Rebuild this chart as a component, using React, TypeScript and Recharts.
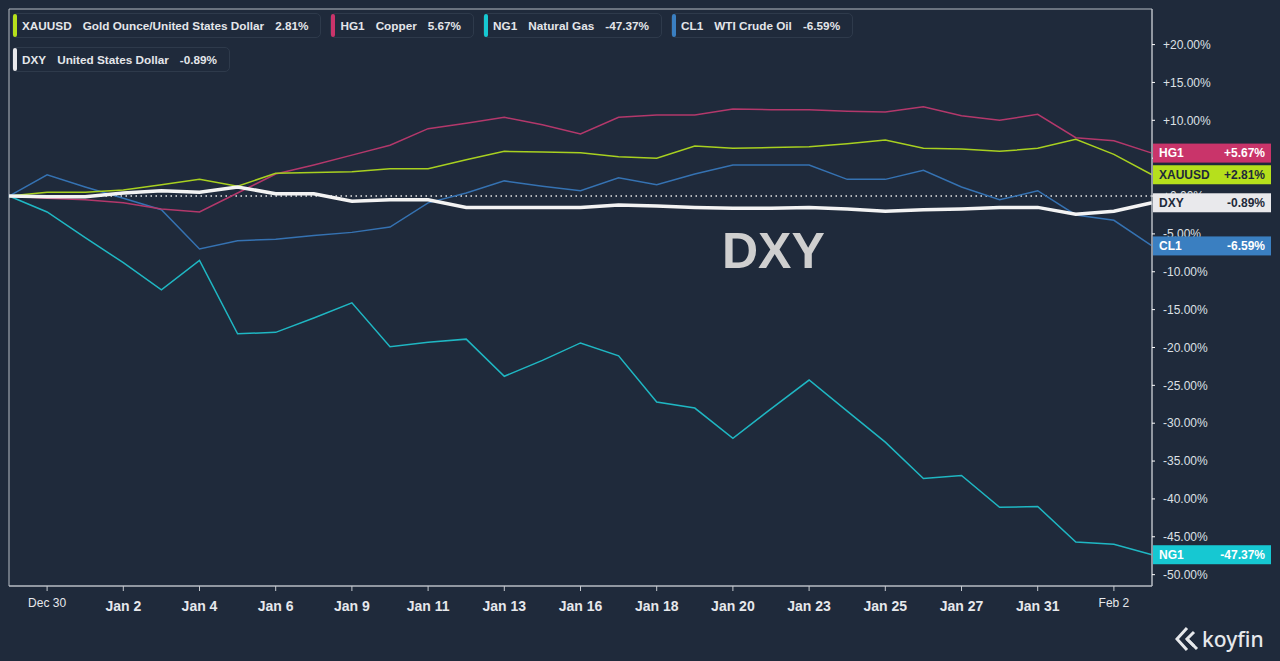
import React from 'react';
import { LineChart, Line, XAxis, YAxis, ReferenceLine, ReferenceArea, LabelList } from 'recharts';

const dates = [
  'Dec 29', 'Dec 30', 'Jan 1', 'Jan 2', 'Jan 3', 'Jan 4', 'Jan 5', 'Jan 6', 'Jan 8', 'Jan 9',
  'Jan 10', 'Jan 11', 'Jan 12', 'Jan 13', 'Jan 15', 'Jan 16', 'Jan 17', 'Jan 18', 'Jan 19', 'Jan 20',
  'Jan 22', 'Jan 23', 'Jan 24', 'Jan 25', 'Jan 26', 'Jan 27', 'Jan 30', 'Jan 31', 'Feb 1', 'Feb 2', 'Feb 3',
];

const xauusd = [0, 0.5, 0.5, 0.8, 1.5, 2.2, 1.3, 3.0, 3.1, 3.2, 3.6, 3.6, 4.8, 5.9, 5.8, 5.7, 5.2, 5.0, 6.6, 6.3, 6.4, 6.5, 6.9, 7.4, 6.3, 6.2, 5.9, 6.3, 7.5, 5.5, 2.81];
const hg1 = [0, -0.3, -0.5, -0.9, -1.7, -2.1, 0.4, 2.9, 4.1, 5.4, 6.7, 8.9, 9.6, 10.4, 9.4, 8.2, 10.4, 10.7, 10.7, 11.5, 11.4, 11.4, 11.2, 11.1, 11.8, 10.6, 10.0, 10.8, 7.7, 7.3, 5.67];
const ng1 = [0, -2.1, -5.5, -8.8, -12.4, -8.5, -18.2, -18.0, -16.1, -14.1, -19.9, -19.3, -18.9, -23.8, -21.7, -19.4, -21.1, -27.2, -28.0, -32.0, -28.1, -24.3, -28.4, -32.5, -37.3, -36.9, -41.1, -41.0, -45.7, -46.0, -47.37];
const cl1 = [0, 2.8, 1.2, -0.3, -1.8, -7.0, -5.9, -5.7, -5.2, -4.8, -4.1, -0.9, 0.4, 2.0, 1.3, 0.7, 2.4, 1.5, 2.9, 4.1, 4.1, 4.1, 2.2, 2.2, 3.4, 1.2, -0.5, 0.7, -2.5, -3.2, -6.59];
const dxy = [0, -0.1, -0.1, 0.4, 0.7, 0.5, 1.2, 0.3, 0.3, -0.7, -0.5, -0.5, -1.5, -1.5, -1.5, -1.5, -1.2, -1.3, -1.5, -1.6, -1.6, -1.5, -1.7, -2.0, -1.8, -1.7, -1.5, -1.5, -2.4, -2.0, -0.89];

const xTicks = [1, 3, 5, 7, 9, 11, 13, 15, 17, 19, 21, 23, 25, 27, 29];
const smallTicks = ['Dec 30', 'Feb 2'];
const yTicks = [-50, -45, -40, -35, -30, -25, -20, -15, -10, -5, 0, 5, 10, 15, 20];

const series = [
  { key: 'XAUUSD', name: 'Gold Ounce/United States Dollar', values: xauusd, color: '#a8d020', box: '#b6e01c', text: '#1e2a3a', width: 1.5 },
  { key: 'HG1', name: 'Copper', values: hg1, color: '#b3386b', box: '#c9346a', text: '#ffffff', width: 1.5 },
  { key: 'NG1', name: 'Natural Gas', values: ng1, color: '#1fb7c3', box: '#16c8d2', text: '#ffffff', width: 1.5 },
  { key: 'CL1', name: 'WTI Crude Oil', values: cl1, color: '#3572b2', box: '#3a7fc1', text: '#ffffff', width: 1.5 },
  { key: 'DXY', name: 'United States Dollar', values: dxy, color: '#f3f3f3', box: '#e9e9ec', text: '#1e2a3a', width: 3.5 },
];

// white DXY line sits on top
const drawOrder = ['CL1', 'NG1', 'HG1', 'XAUUSD', 'DXY'];

const data = dates.map((d, i) => {
  const row: any = { i, date: d };
  series.forEach((s) => { row[s.key] = s.values[i]; });
  return row;
});

const BG = '#1f2a3b';
const BORDER = '#b7bcc4';
const FONT = '"Liberation Sans", Arial, sans-serif';

const pct = (v: number, plus: boolean) => `${plus && v >= 0 ? '+' : ''}${v.toFixed(2)}%`;

const XTick = (props: any) => {
  const { x, y, payload } = props;
  const label = dates[payload.value];
  const small = smallTicks.includes(label);
  return (
    <text x={x} y={small ? y + 14 : y + 18} textAnchor="middle" fill="#e6e8ec" fontFamily={FONT}
      fontSize={small ? 12 : 14} fontWeight={small ? 400 : 700}>
      {label}
    </text>
  );
};

const endLabel = (s: any) => (props: any) => {
  const { x, y, index } = props;
  if (index !== dates.length - 1) return null;
  return (
    <g>
      <rect x={x + 1} y={y - 9.5} width={118} height={19} fill={s.box} />
      <text x={x + 7} y={y} dy="0.36em" fill={s.text} fontFamily={FONT} fontSize={12} fontWeight={700}>{s.key}</text>
      <text x={x + 113} y={y} dy="0.36em" textAnchor="end" fill={s.text} fontFamily={FONT} fontSize={12} fontWeight={700}>
        {pct(s.values[s.values.length - 1], true)}
      </text>
    </g>
  );
};

const LegendPill = ({ s }: { s: any }) => (
  <div style={{ display: 'flex', alignItems: 'center', height: 23, border: '1px solid #2e3a4b', borderRadius: 5, paddingRight: 12 }}>
    <div style={{ width: 4, height: 23, borderRadius: 2, background: s.box, marginRight: 5 }} />
    <span style={{ marginRight: 11 }}>{s.key}</span>
    <span style={{ marginRight: 11 }}>{s.name}</span>
    <span>{pct(s.values[s.values.length - 1], false)}</span>
  </div>
);

export default function App() {
  return (
    <div style={{ position: 'absolute', left: 0, top: 0, width: 1280, height: 661, background: BG, overflow: 'hidden' }}>
      <LineChart width={1280} height={661} data={data} margin={{ top: 9, right: 0, left: 9, bottom: 45 }}>
        <ReferenceArea x1={0} x2={30} y1={-51.5} y2={24.7} fill="none" stroke={BORDER} strokeWidth={1} ifOverflow="visible" />
        <XAxis type="number" dataKey="i" domain={[0, 30]} ticks={xTicks} interval={0} height={30}
          axisLine={{ stroke: BORDER }} tickLine={{ stroke: '#c5c9cf' }} tickSize={5} tick={<XTick />} />
        <YAxis orientation="right" width={128} domain={[-51.5, 24.7]} ticks={yTicks} interval={0} allowDataOverflow
          axisLine={{ stroke: BORDER }} tickLine={{ stroke: '#ffffff' }} tickSize={3} tickMargin={8}
          tick={{ fill: '#dde0e5', fontSize: 12, fontFamily: FONT }} tickFormatter={(v: number) => pct(v, true)} />
        <ReferenceLine y={0} stroke="#e6e6e6" strokeWidth={1.5} strokeDasharray="1.5 3.5" />
        {drawOrder.map((k) => {
          const s = series.find((q) => q.key === k)!;
          return (
            <Line key={k} type="linear" dataKey={k} stroke={s.color} strokeWidth={s.width} dot={false}
              activeDot={false} isAnimationActive={false}>
              <LabelList dataKey={k} content={endLabel(s)} />
            </Line>
          );
        })}
      </LineChart>

      <div style={{ position: 'absolute', left: 12, top: 13, width: 900, display: 'flex', flexWrap: 'wrap', gap: '9px 9px',
        color: '#e4e6ea', fontFamily: FONT, fontSize: 11.75, fontWeight: 700 }}>
        {series.map((s) => <LegendPill key={s.key} s={s} />)}
      </div>

      <div style={{ position: 'absolute', left: 722, top: 226, fontFamily: FONT, fontSize: 50, fontWeight: 700, lineHeight: 1, color: '#cfcfcf' }}>
        DXY
      </div>

      <div style={{ position: 'absolute', left: 1175, top: 626, display: 'flex', alignItems: 'center', color: '#e6e8eb' }}>
        <svg width={24} height={26} viewBox="0 0 24 26">
          <polyline points="12,2 2,13 12,24" fill="none" stroke="#e6e8eb" strokeWidth={3} strokeLinejoin="miter" />
          <polyline points="19,6 12,13 19,20" fill="none" stroke="#e6e8eb" strokeWidth={3} strokeLinejoin="miter" />
          <line x1={12} y1={13} x2={22} y2={23} stroke="#e6e8eb" strokeWidth={3} />
        </svg>
        <span style={{ fontFamily: '"Noto Sans", sans-serif', fontSize: 21, fontWeight: 500, marginLeft: 3, lineHeight: 1 }}>koyfin</span>
      </div>
    </div>
  );
}
